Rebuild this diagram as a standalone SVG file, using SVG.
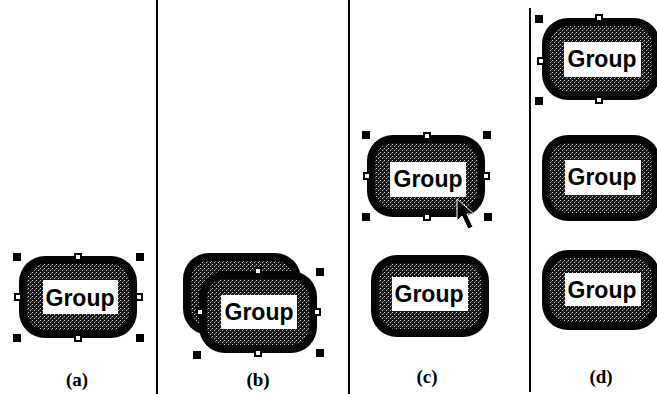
<svg xmlns="http://www.w3.org/2000/svg" width="657" height="394" viewBox="0 0 657 394">
<style>
.outer{fill:#050505}
.inner{fill:url(#stip)}
.tbox{fill:#fff}
.lbl{font-family:"Liberation Sans",Arial,sans-serif;font-size:23px;font-weight:bold;fill:#000;text-anchor:middle}
.cap{font-family:"Liberation Serif","Times New Roman",serif;font-size:19px;font-weight:bold;fill:#000;text-anchor:middle}
.h{fill:#000}
.m{fill:#fff;stroke:#000;stroke-width:2}
.sep{stroke:#000;stroke-width:2}
</style>
<defs>
<pattern id="stip" width="4" height="4" patternUnits="userSpaceOnUse">
<rect width="4" height="4" fill="#151515"/>
<rect x="0" y="0" width="1" height="1" fill="#d0d0d0"/>
<rect x="2" y="2" width="1" height="1" fill="#c0c0c0"/>
<rect x="3" y="1" width="1" height="1" fill="#707070"/>
</pattern>
</defs>
<rect width="657" height="394" fill="#fff"/>
<g id="separators">
<line class="sep" x1="157" y1="0" x2="157" y2="394"/>
<line class="sep" x1="349" y1="0" x2="349" y2="394"/>
<line class="sep" x1="530" y1="8" x2="530" y2="392"/>
</g>
<g id="group-a">
<rect class="outer" x="19" y="256" width="118" height="82" rx="26"/>
<rect class="inner" x="27" y="264" width="102" height="66" rx="18"/>
<rect class="tbox" x="43" y="280" width="75" height="34"/>
<text class="lbl" x="80" y="306">Group</text>
<rect class="h" x="13" y="253" width="8" height="8"/>
<rect class="h" x="136" y="253" width="8" height="8"/>
<rect class="h" x="13" y="334" width="8" height="8"/>
<rect class="h" x="136" y="334" width="8" height="8"/>
<rect class="m" x="75" y="254" width="6" height="6"/>
<rect class="m" x="75" y="335" width="6" height="6"/>
<rect class="m" x="15" y="294" width="6" height="6"/>
<rect class="m" x="136" y="294" width="6" height="6"/>
<text class="cap" x="77" y="386">(a)</text>
</g>
<g id="group-b-back">
<rect class="outer" x="183" y="253" width="118" height="82" rx="26"/>
<rect class="inner" x="191" y="261" width="102" height="66" rx="18"/>
</g>
<g id="group-b">
<rect class="outer" x="199" y="271" width="118" height="82" rx="26"/>
<rect class="inner" x="207" y="279" width="102" height="66" rx="18"/>
<rect class="tbox" x="221" y="295" width="76" height="34"/>
<text class="lbl" x="259" y="320">Group</text>
<rect class="h" x="316" y="268" width="8" height="8"/>
<rect class="h" x="193" y="351" width="8" height="8"/>
<rect class="h" x="316" y="349" width="8" height="8"/>
<rect class="m" x="255" y="268" width="6" height="6"/>
<rect class="m" x="255" y="350" width="6" height="6"/>
<rect class="m" x="197" y="309" width="6" height="6"/>
<rect class="m" x="314" y="309" width="6" height="6"/>
<text class="cap" x="258" y="386">(b)</text>
</g>
<g id="group-c-top">
<rect class="outer" x="367" y="135" width="118" height="82" rx="26"/>
<rect class="inner" x="375" y="143" width="102" height="66" rx="18"/>
<rect class="tbox" x="390" y="162" width="76" height="35"/>
<text class="lbl" x="428" y="187">Group</text>
<rect class="h" x="362" y="131" width="8" height="8"/>
<rect class="h" x="483" y="131" width="8" height="8"/>
<rect class="h" x="362" y="213" width="8" height="8"/>
<rect class="h" x="484" y="213" width="8" height="8"/>
<rect class="m" x="424" y="133" width="6" height="6"/>
<rect class="m" x="424" y="214" width="6" height="6"/>
<rect class="m" x="364" y="173" width="6" height="6"/>
<rect class="m" x="483" y="173" width="6" height="6"/>
<polygon points="457,199 457,221 462,216 468,229 473,227 467,214 474,214" fill="#000" stroke="#fff" stroke-width="1"/>
</g>
<g id="group-c-bottom">
<rect class="outer" x="371" y="255" width="118" height="82" rx="26"/>
<rect class="inner" x="379" y="263" width="102" height="66" rx="18"/>
<rect class="tbox" x="392" y="277" width="76" height="34"/>
<text class="lbl" x="429" y="302">Group</text>
<text class="cap" x="427" y="383">(c)</text>
</g>
<g id="group-d-top">
<rect class="outer" x="542" y="18" width="118" height="82" rx="26"/>
<rect class="inner" x="550" y="26" width="102" height="66" rx="18"/>
<rect class="tbox" x="564" y="42" width="77" height="35"/>
<text class="lbl" x="602" y="67">Group</text>
<rect class="h" x="535" y="15" width="8" height="8"/>
<rect class="h" x="535" y="97" width="8" height="8"/>
<rect class="m" x="596" y="15" width="6" height="6"/>
<rect class="m" x="596" y="97" width="6" height="6"/>
<rect class="m" x="538" y="58" width="6" height="6"/>
</g>
<g id="group-d-middle">
<rect class="outer" x="542" y="135" width="118" height="86" rx="26"/>
<rect class="inner" x="550" y="143" width="102" height="70" rx="18"/>
<rect class="tbox" x="565" y="160" width="76" height="35"/>
<text class="lbl" x="602" y="185">Group</text>
</g>
<g id="group-d-bottom">
<rect class="outer" x="542" y="250" width="118" height="80" rx="26"/>
<rect class="inner" x="550" y="258" width="102" height="64" rx="18"/>
<rect class="tbox" x="565" y="273" width="76" height="33"/>
<text class="lbl" x="602" y="298">Group</text>
<text class="cap" x="601" y="383">(d)</text>
</g>
</svg>
